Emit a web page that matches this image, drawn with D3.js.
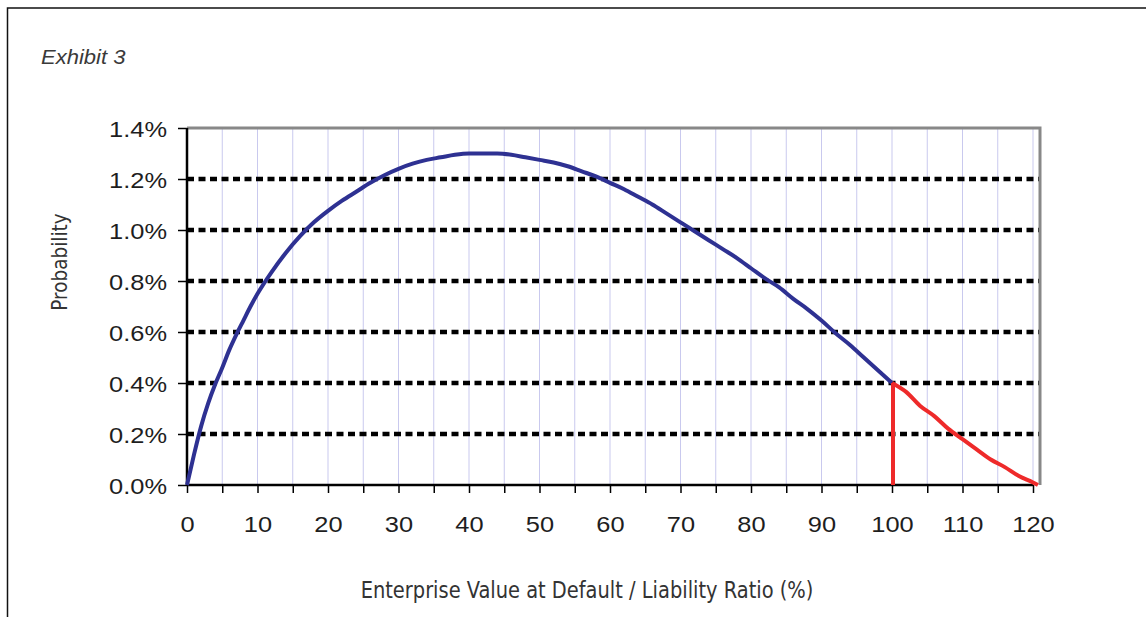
<!DOCTYPE html>
<html><head><meta charset="utf-8">
<script src="https://cdn.jsdelivr.net/npm/d3@7"></script>
<style>body{margin:0;background:#fff}svg{display:block}</style>
</head><body>
<svg id="c" width="1146" height="617"></svg>
<script>
const xTicks = [0,10,20,30,40,50,60,70,80,90,100,110,120];
const yTicks = [0,0.2,0.4,0.6,0.8,1.0,1.2,1.4];
const blueX = [0,1,2,3,4,5,6,7,8,9,10,12,14,16,18,20,22,24,26,28,30,32,34,36,38,40,42,44,46,48,50,52,54,56,58,60,62,64,66,68,70,72,74,76,78,80,82,84,86,88,90,92,94,96,98,100];
const blueY = [0,0.12,0.23,0.32,0.395,0.46,0.53,0.59,0.645,0.70,0.75,0.835,0.91,0.975,1.03,1.075,1.115,1.15,1.185,1.215,1.24,1.26,1.275,1.285,1.295,1.30,1.30,1.30,1.295,1.285,1.275,1.265,1.25,1.23,1.21,1.185,1.16,1.13,1.10,1.065,1.03,0.995,0.96,0.925,0.89,0.85,0.81,0.775,0.73,0.69,0.645,0.595,0.55,0.50,0.45,0.40];
const redX = [100,102,104,106,108,110,112,114,116,118,120,120.7];
const redY = [0.40,0.365,0.31,0.27,0.22,0.18,0.14,0.10,0.07,0.035,0.01,0];
const cutoff = 100;

const svg = d3.select("#c");
const L=187, R=1040, T=128, B=485;
const x = d3.scaleLinear().domain([0,120]).range([L,1033]);
const y = d3.scaleLinear().domain([0,1.4]).range([B,T]);
const SX = 1.13; // horizontal text stretch seen in the reference

// outer frame
svg.append("rect").attr("x",7.5).attr("y",8).attr("width",1150).attr("height",620)
  .attr("fill","none").attr("stroke","#111").attr("stroke-width",1.5);

svg.append("text").attr("transform",`translate(41,64) scale(${SX},1)`).text("Exhibit 3")
  .attr("font-family","Liberation Sans, Arial").attr("font-style","italic")
  .attr("font-size",19.5).attr("fill","#3a3a3a");

// vertical grid lines every 5
const vg = d3.range(5,125,5);
svg.append("g").selectAll("line").data(vg).join("line")
  .attr("x1",d=>x(d)).attr("x2",d=>x(d)).attr("y1",T).attr("y2",B)
  .attr("stroke","#c9c9ee").attr("stroke-width",1);

// horizontal dashed grid
svg.append("g").selectAll("line").data(yTicks.filter(d=>d>0)).join("line")
  .attr("x1",L).attr("x2",R).attr("y1",d=>y(d)).attr("y2",d=>y(d))
  .attr("stroke","#000").attr("stroke-width",d=>d===1.4?2:4.5)
  .attr("stroke-dasharray","7,4.5");

// top and right border
svg.append("path").attr("d",`M${L},${T}H${R}V${B}`).attr("fill","none")
  .attr("stroke","#888").attr("stroke-width",3);

// axes
const yAxis = d3.axisLeft(y).tickValues(yTicks).tickSize(9).tickFormat(d=>d.toFixed(1)+"%");
const gy = svg.append("g").attr("transform",`translate(${L},0)`).call(yAxis);
const xAxis = d3.axisBottom(x).tickValues(d3.range(0,125,5)).tickSize(8).tickFormat(d=>xTicks.includes(d)?d:"");
const gx = svg.append("g").attr("transform",`translate(0,${B})`).call(xAxis);
[gy,gx].forEach(g=>{
  g.select(".domain").attr("stroke","#000").attr("stroke-width",2.5);
  g.selectAll(".tick line").attr("stroke","#000").attr("stroke-width",1.5);
  g.selectAll("text").attr("font-family","Liberation Sans, Arial").attr("font-size",22.5).attr("fill","#1e1e1e")
    .attr("transform",`scale(${SX},1)`);
});
gx.select(".domain").attr("d",`M${L},0H${x(120)}`);
gy.select(".domain").attr("d",`M0,${B}V${T}`);
gy.selectAll("text").attr("x",-20/SX).attr("dy","0.36em");
gx.selectAll("text").attr("y",47).attr("dy",0);

// curves
const line = d3.line().x(d=>x(d[0])).y(d=>y(d[1])).curve(d3.curveMonotoneX);
svg.append("path").datum(blueX.map((v,i)=>[v,blueY[i]])).attr("d",line)
  .attr("fill","none").attr("stroke","#2e3192").attr("stroke-width",4).attr("stroke-linejoin","round");
svg.append("path").datum(redX.map((v,i)=>[v,redY[i]])).attr("d",line)
  .attr("fill","none").attr("stroke","#ee2a2a").attr("stroke-width",4).attr("stroke-linejoin","round");
svg.append("line").attr("x1",x(cutoff)+1).attr("x2",x(cutoff)+1).attr("y1",y(0)).attr("y2",y(redY[0]))
  .attr("stroke","#ee2a2a").attr("stroke-width",4);

// axis titles
svg.append("text").attr("transform","translate(67,262) rotate(-90)").attr("text-anchor","middle")
  .attr("font-family","Liberation Sans Narrow, DejaVu Sans Condensed, Arial").attr("font-size",20.5)
  .attr("fill","#333").text("Probability");
svg.append("text").attr("transform","translate(587,598) scale(0.92,1)").attr("text-anchor","middle")
  .attr("font-family","Liberation Sans Narrow, DejaVu Sans Condensed, Arial").attr("font-size",23.5)
  .attr("fill","#333").text("Enterprise Value at Default / Liability Ratio (%)");
</script>
</body></html>
